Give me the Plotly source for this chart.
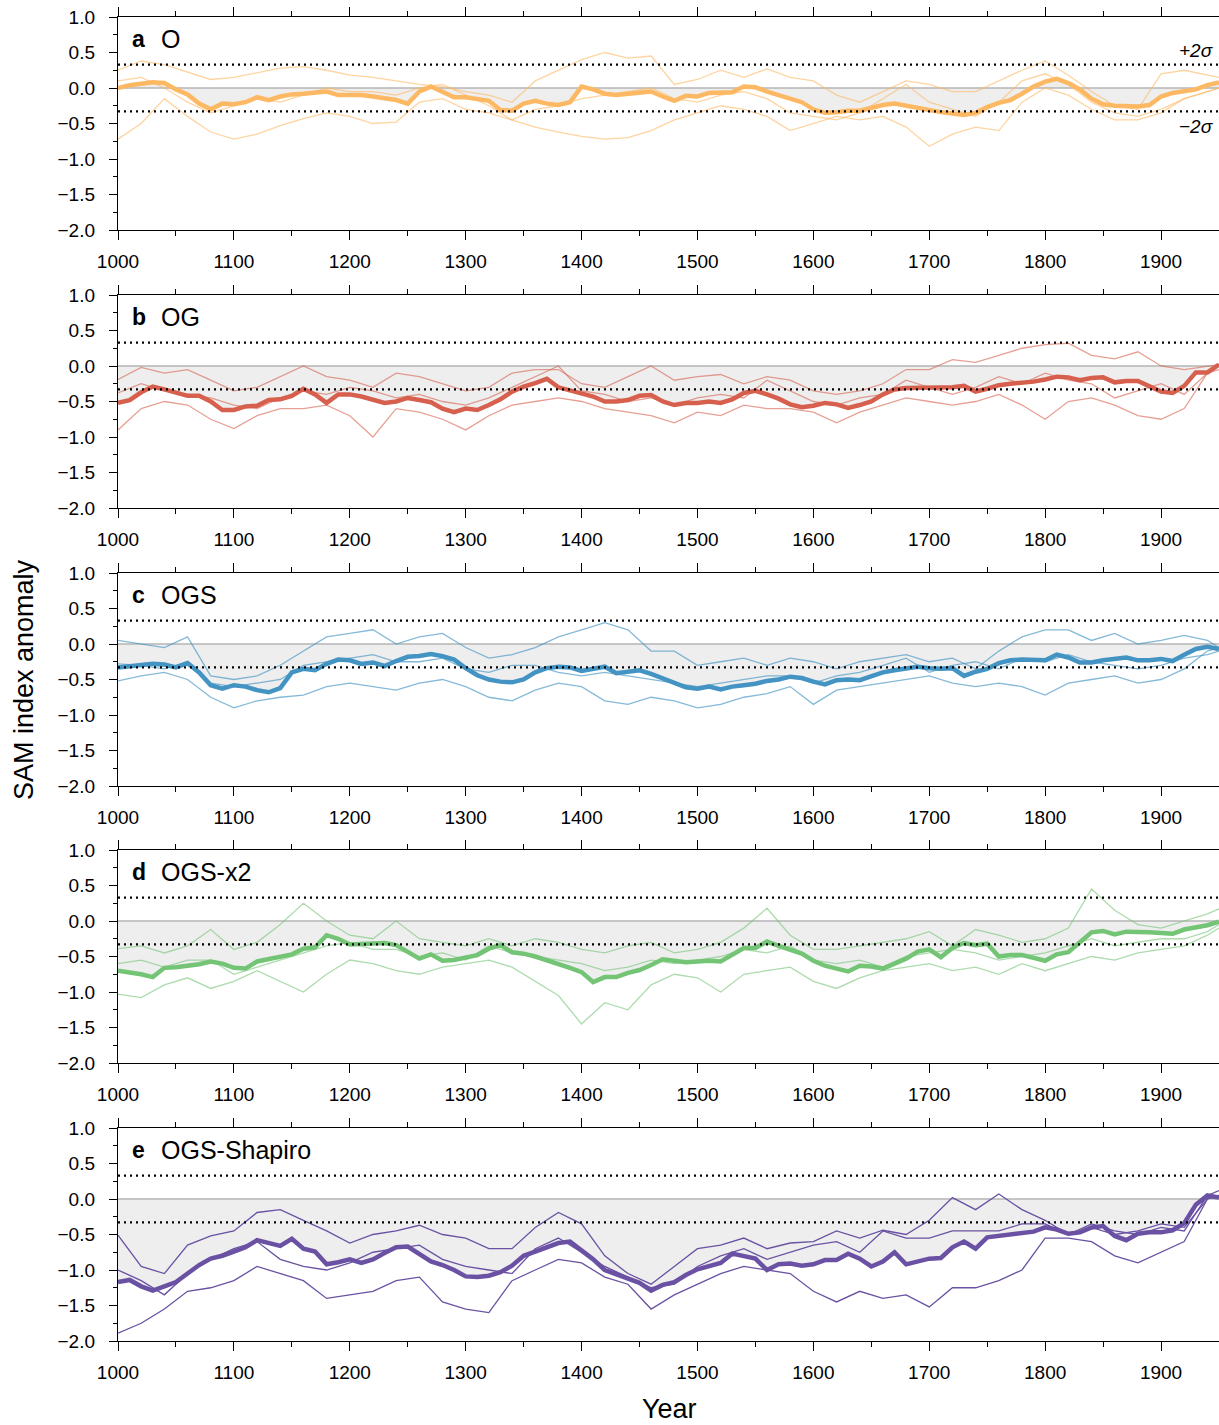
import plotly.graph_objects as go

# ---------------- data ----------------
YEARS_MEAN = list(range(1000, 1951, 10))
YEARS_THIN = list(range(1000, 1941, 20)) + [1950]
SIGMA2 = 0.33
XMIN, XMAX = 1000, 1950

A_MEAN = [0.00,0.04,0.06,0.08,0.07,-0.02,-0.09,-0.22,-0.30,-0.22,
          -0.23,-0.20,-0.13,-0.17,-0.12,-0.09,-0.08,-0.06,-0.05,-0.10,
          -0.10,-0.10,-0.12,-0.14,-0.17,-0.22,-0.05,0.02,-0.06,-0.13,
          -0.13,-0.15,-0.18,-0.31,-0.32,-0.22,-0.18,-0.22,-0.24,-0.20,
          0.02,-0.02,-0.08,-0.10,-0.08,-0.07,-0.05,-0.12,-0.18,-0.11,
          -0.12,-0.07,-0.06,-0.06,0.02,0.01,-0.05,-0.10,-0.15,-0.20,
          -0.30,-0.35,-0.34,-0.32,-0.32,-0.28,-0.24,-0.22,-0.25,-0.29,
          -0.32,-0.34,-0.36,-0.38,-0.35,-0.27,-0.21,-0.17,-0.08,0.02,
          0.09,0.13,0.07,-0.02,-0.15,-0.23,-0.25,-0.25,-0.26,-0.24,
          -0.12,-0.07,-0.05,-0.02,0.04,0.08]
A_THIN1 = [0.25,0.38,0.33,0.22,0.12,0.15,0.22,0.28,0.30,0.25,
           0.18,0.15,0.10,0.05,0.02,-0.05,-0.10,-0.20,0.10,0.25,
           0.40,0.50,0.42,0.45,0.05,0.12,0.25,0.15,0.27,0.15,
           0.10,-0.10,-0.20,-0.05,0.10,0.05,-0.05,-0.05,0.10,0.25,
           0.38,0.18,-0.05,-0.25,-0.30,0.20,0.25,0.18,0.15]
A_THIN2 = [0.10,0.15,0.00,-0.20,-0.35,-0.25,-0.15,-0.20,-0.10,0.00,
           -0.05,-0.05,-0.10,0.00,0.05,-0.10,-0.25,-0.45,-0.30,-0.25,
           -0.15,-0.10,-0.05,0.00,-0.15,-0.20,-0.10,-0.05,-0.15,-0.35,
           -0.40,-0.45,-0.35,-0.15,0.05,-0.20,-0.30,-0.40,-0.20,0.10,
           0.20,0.05,-0.20,-0.35,-0.40,-0.30,-0.15,-0.05,0.00]
A_THIN3 = [-0.72,-0.50,-0.15,-0.40,-0.62,-0.72,-0.65,-0.53,-0.43,-0.35,
           -0.40,-0.50,-0.48,-0.20,-0.15,-0.30,-0.35,-0.45,-0.55,-0.62,
           -0.68,-0.72,-0.70,-0.60,-0.45,-0.35,-0.25,-0.30,-0.40,-0.60,
           -0.50,-0.40,-0.45,-0.40,-0.55,-0.82,-0.65,-0.55,-0.60,-0.20,
           0.00,-0.10,-0.30,-0.45,-0.45,-0.35,-0.15,-0.05,0.00]

B_MEAN = [-0.52,-0.48,-0.37,-0.29,-0.33,-0.38,-0.42,-0.42,-0.50,-0.62,
          -0.62,-0.57,-0.56,-0.48,-0.47,-0.42,-0.32,-0.40,-0.52,-0.40,
          -0.40,-0.43,-0.47,-0.52,-0.50,-0.45,-0.48,-0.51,-0.60,-0.65,
          -0.60,-0.62,-0.55,-0.47,-0.36,-0.29,-0.24,-0.18,-0.30,-0.34,
          -0.38,-0.43,-0.50,-0.50,-0.48,-0.42,-0.41,-0.50,-0.55,-0.52,
          -0.52,-0.50,-0.52,-0.47,-0.38,-0.35,-0.40,-0.46,-0.54,-0.58,
          -0.56,-0.52,-0.54,-0.59,-0.55,-0.50,-0.40,-0.33,-0.31,-0.31,
          -0.31,-0.30,-0.30,-0.28,-0.36,-0.32,-0.27,-0.25,-0.24,-0.22,
          -0.19,-0.15,-0.16,-0.20,-0.17,-0.16,-0.23,-0.21,-0.21,-0.28,
          -0.36,-0.38,-0.28,-0.09,-0.09,0.02]
B_THIN1 = [-0.19,-0.02,-0.10,-0.05,-0.20,-0.35,-0.30,-0.15,0.00,-0.15,
           -0.20,-0.30,-0.10,-0.15,-0.25,-0.35,-0.30,-0.10,-0.05,-0.05,
           -0.25,-0.30,-0.15,0.00,-0.20,-0.15,-0.12,-0.25,-0.15,-0.20,
           -0.35,-0.40,-0.35,-0.25,-0.05,-0.05,0.09,0.05,0.15,0.25,
           0.30,0.32,0.15,0.10,0.20,0.00,-0.05,0.00,0.02]
B_THIN2 = [-0.38,-0.25,-0.35,-0.40,-0.45,-0.55,-0.60,-0.45,-0.35,-0.40,
           -0.30,-0.35,-0.45,-0.40,-0.50,-0.55,-0.45,-0.30,-0.15,0.00,
           -0.35,-0.40,-0.50,-0.45,-0.55,-0.45,-0.40,-0.45,-0.20,-0.35,
           -0.50,-0.55,-0.45,-0.40,-0.20,-0.30,-0.40,-0.30,-0.15,-0.25,
           -0.10,-0.20,-0.25,-0.45,-0.35,-0.25,-0.40,-0.10,-0.05]
B_THIN3 = [-0.90,-0.60,-0.50,-0.55,-0.75,-0.88,-0.70,-0.60,-0.60,-0.55,
           -0.70,-1.00,-0.60,-0.65,-0.75,-0.90,-0.70,-0.55,-0.50,-0.45,
           -0.50,-0.60,-0.65,-0.70,-0.80,-0.65,-0.70,-0.55,-0.60,-0.60,
           -0.65,-0.80,-0.65,-0.55,-0.45,-0.50,-0.55,-0.50,-0.40,-0.55,
           -0.75,-0.50,-0.45,-0.55,-0.70,-0.75,-0.60,-0.10,0.00]

C_MEAN = [-0.33,-0.31,-0.29,-0.28,-0.29,-0.33,-0.27,-0.40,-0.58,-0.63,
          -0.58,-0.60,-0.65,-0.68,-0.62,-0.40,-0.35,-0.37,-0.28,-0.22,
          -0.23,-0.28,-0.26,-0.31,-0.24,-0.18,-0.17,-0.14,-0.17,-0.22,
          -0.34,-0.44,-0.50,-0.53,-0.54,-0.50,-0.40,-0.34,-0.32,-0.33,
          -0.38,-0.35,-0.32,-0.41,-0.39,-0.37,-0.42,-0.48,-0.54,-0.61,
          -0.63,-0.60,-0.64,-0.60,-0.58,-0.56,-0.52,-0.50,-0.46,-0.48,
          -0.53,-0.57,-0.51,-0.50,-0.51,-0.46,-0.40,-0.37,-0.34,-0.32,
          -0.34,-0.35,-0.34,-0.45,-0.39,-0.35,-0.27,-0.23,-0.22,-0.23,
          -0.23,-0.15,-0.19,-0.26,-0.26,-0.23,-0.21,-0.19,-0.23,-0.23,
          -0.21,-0.24,-0.15,-0.07,-0.04,-0.07]
C_THIN1 = [0.05,0.00,-0.05,0.10,-0.45,-0.50,-0.45,-0.30,-0.10,0.10,
           0.15,0.20,0.00,0.10,0.15,-0.05,-0.20,-0.15,-0.05,0.10,
           0.20,0.30,0.20,-0.10,-0.10,-0.30,-0.25,-0.20,-0.30,-0.20,
           -0.25,-0.35,-0.25,-0.20,-0.15,-0.25,-0.20,-0.35,-0.10,0.10,
           0.20,0.20,0.05,0.15,0.00,0.05,0.12,0.05,-0.05]
C_THIN2 = [-0.28,-0.30,-0.35,-0.25,-0.55,-0.60,-0.55,-0.50,-0.30,-0.25,
           -0.20,-0.15,-0.25,-0.25,-0.20,-0.35,-0.40,-0.30,-0.30,-0.40,
           -0.45,-0.40,-0.45,-0.50,-0.55,-0.60,-0.55,-0.50,-0.45,-0.45,
           -0.55,-0.45,-0.40,-0.30,-0.20,-0.40,-0.30,-0.25,-0.35,-0.20,
           -0.25,-0.15,-0.25,-0.30,-0.35,-0.30,-0.20,-0.15,-0.10]
C_THIN3 = [-0.52,-0.45,-0.40,-0.50,-0.75,-0.90,-0.80,-0.75,-0.72,-0.60,
           -0.55,-0.60,-0.65,-0.55,-0.50,-0.60,-0.75,-0.80,-0.65,-0.55,
           -0.60,-0.80,-0.85,-0.75,-0.80,-0.90,-0.85,-0.75,-0.70,-0.60,
           -0.85,-0.65,-0.60,-0.55,-0.50,-0.45,-0.55,-0.60,-0.55,-0.60,
           -0.72,-0.55,-0.50,-0.45,-0.55,-0.50,-0.35,-0.10,-0.05]

D_MEAN = [-0.70,-0.72,-0.75,-0.79,-0.66,-0.65,-0.63,-0.61,-0.57,-0.60,
          -0.66,-0.67,-0.57,-0.54,-0.51,-0.47,-0.39,-0.37,-0.20,-0.25,
          -0.33,-0.32,-0.31,-0.31,-0.34,-0.43,-0.53,-0.47,-0.56,-0.55,
          -0.51,-0.48,-0.39,-0.34,-0.44,-0.46,-0.50,-0.55,-0.60,-0.66,
          -0.72,-0.86,-0.79,-0.79,-0.73,-0.69,-0.62,-0.54,-0.56,-0.58,
          -0.57,-0.56,-0.57,-0.48,-0.38,-0.38,-0.29,-0.35,-0.41,-0.46,
          -0.56,-0.63,-0.67,-0.71,-0.63,-0.64,-0.67,-0.60,-0.53,-0.43,
          -0.40,-0.51,-0.38,-0.31,-0.34,-0.32,-0.50,-0.48,-0.48,-0.52,
          -0.56,-0.47,-0.44,-0.30,-0.16,-0.14,-0.19,-0.15,-0.15,-0.16,
          -0.17,-0.18,-0.12,-0.09,-0.06,-0.01]
D_THIN1 = [-0.39,-0.35,-0.45,-0.35,-0.12,-0.40,-0.30,-0.05,0.25,0.00,
           -0.20,-0.25,0.00,-0.25,-0.30,-0.35,-0.25,-0.35,-0.25,-0.30,
           -0.40,-0.45,-0.35,-0.30,-0.45,-0.40,-0.30,-0.10,0.18,-0.20,
           -0.40,-0.40,-0.35,-0.30,-0.25,-0.15,-0.35,-0.12,-0.20,-0.30,
           -0.25,-0.10,0.45,0.15,-0.05,-0.10,0.00,0.10,0.17]
D_THIN2 = [-0.60,-0.55,-0.65,-0.55,-0.55,-0.75,-0.65,-0.55,-0.45,-0.35,
           -0.30,-0.40,-0.40,-0.50,-0.45,-0.55,-0.35,-0.45,-0.50,-0.55,
           -0.60,-0.70,-0.65,-0.55,-0.60,-0.55,-0.50,-0.40,-0.45,-0.35,
           -0.55,-0.60,-0.55,-0.65,-0.50,-0.45,-0.40,-0.45,-0.55,-0.50,
           -0.45,-0.35,-0.25,-0.35,-0.30,-0.25,-0.25,-0.15,-0.05]
D_THIN3 = [-1.03,-1.08,-0.90,-0.80,-0.95,-0.85,-0.70,-0.85,-1.00,-0.75,
           -0.55,-0.60,-0.70,-0.75,-0.65,-0.60,-0.55,-0.65,-0.85,-1.05,
           -1.45,-1.15,-1.25,-0.90,-0.75,-0.80,-1.00,-0.75,-0.70,-0.65,
           -0.85,-0.95,-0.80,-0.70,-0.65,-0.60,-0.70,-0.65,-0.75,-0.60,
           -0.70,-0.60,-0.50,-0.55,-0.45,-0.40,-0.35,-0.20,-0.10]

E_MEAN = [-1.17,-1.14,-1.23,-1.29,-1.23,-1.17,-1.05,-0.93,-0.84,-0.80,
          -0.74,-0.68,-0.58,-0.62,-0.66,-0.56,-0.70,-0.74,-0.92,-0.89,
          -0.85,-0.90,-0.85,-0.76,-0.68,-0.67,-0.78,-0.88,-0.93,-1.00,
          -1.09,-1.10,-1.08,-1.03,-0.94,-0.80,-0.74,-0.68,-0.62,-0.60,
          -0.72,-0.85,-1.00,-1.06,-1.12,-1.18,-1.29,-1.21,-1.17,-1.07,
          -0.99,-0.94,-0.90,-0.77,-0.81,-0.84,-1.00,-0.92,-0.91,-0.94,
          -0.92,-0.86,-0.86,-0.77,-0.84,-0.95,-0.88,-0.75,-0.92,-0.88,
          -0.84,-0.83,-0.68,-0.60,-0.70,-0.54,-0.52,-0.50,-0.49,-0.46,
          -0.40,-0.43,-0.49,-0.47,-0.40,-0.38,-0.52,-0.58,-0.49,-0.47,
          -0.47,-0.44,-0.34,-0.08,0.05,0.02]
E_THIN1 = [-0.51,-0.95,-1.05,-0.65,-0.52,-0.45,-0.19,-0.15,-0.30,-0.45,
           -0.62,-0.50,-0.45,-0.37,-0.50,-0.55,-0.70,-0.70,-0.40,-0.19,
           -0.35,-0.80,-1.05,-1.20,-0.95,-0.70,-0.65,-0.55,-0.70,-0.62,
           -0.60,-0.45,-0.55,-0.44,-0.50,-0.30,0.02,-0.15,0.07,-0.15,
           -0.30,-0.50,-0.35,-0.45,-0.50,-0.40,-0.45,0.05,0.12]
E_THIN2 = [-1.00,-1.15,-1.35,-1.05,-0.85,-0.70,-0.60,-0.85,-0.95,-1.00,
           -0.90,-0.75,-0.70,-0.65,-0.85,-0.95,-1.00,-1.05,-0.70,-0.55,
           -0.75,-0.95,-1.10,-1.25,-1.20,-0.95,-0.80,-0.70,-0.85,-0.75,
           -0.65,-0.60,-0.75,-0.45,-0.55,-0.55,-0.45,-0.45,-0.45,-0.35,
           -0.35,-0.50,-0.40,-0.50,-0.45,-0.35,-0.40,0.00,0.05]
E_THIN3 = [-1.89,-1.75,-1.55,-1.30,-1.25,-1.15,-0.95,-1.05,-1.15,-1.40,
           -1.35,-1.30,-1.15,-1.10,-1.45,-1.55,-1.60,-1.15,-1.00,-0.85,
           -0.90,-1.10,-1.20,-1.55,-1.35,-1.20,-1.05,-0.95,-1.00,-1.05,
           -1.30,-1.45,-1.30,-1.40,-1.35,-1.52,-1.25,-1.25,-1.15,-1.00,
           -0.55,-0.55,-0.60,-0.80,-0.90,-0.75,-0.60,0.00,0.05]

PANEL_LETTERS = ["a", "b", "c", "d", "e"]
PANEL_NAMES = ["O", "OG", "OGS", "OGS-x2", "OGS-Shapiro"]
MEANS = [A_MEAN, B_MEAN, C_MEAN, D_MEAN, E_MEAN]
THINS = [[A_THIN1, A_THIN2, A_THIN3], [B_THIN1, B_THIN2, B_THIN3],
         [C_THIN1, C_THIN2, C_THIN3], [D_THIN1, D_THIN2, D_THIN3],
         [E_THIN1, E_THIN2, E_THIN3]]
THICK_COLORS = ["#fdb863", "#d6604d", "#4393c3", "#74c476", "#6a51a3"]
THIN_COLORS = ["rgba(253,184,99,0.6)", "rgba(214,96,77,0.6)",
               "rgba(67,147,195,0.65)", "rgba(116,196,118,0.6)", "#6a51a3"]
X_TICKS = list(range(1000, 1901, 100))

for m in MEANS:
    assert len(m) == len(YEARS_MEAN), len(m)
for th in THINS:
    for t in th:
        assert len(t) == len(YEARS_THIN), len(t)

# ---------------- layout geometry ----------------
W, H = 1219, 1425
ML, MR, MT, MB = 118, 0, 17, 84
PLOT_H = H - MT - MB
PANEL_TOPS = [17, 295, 573, 850, 1128]
PANEL_H = 213
FONT = "Liberation Sans, Arial, Helvetica, sans-serif"

fig = go.Figure()
layout = dict(
    width=W, height=H, margin=dict(l=ML, r=MR, t=MT, b=MB),
    plot_bgcolor="white", paper_bgcolor="white", showlegend=False,
    font=dict(family=FONT, size=19, color="black"),
)
shapes, annotations = [], []

for i in range(5):
    k = i + 1
    xa = "x" if k == 1 else f"x{k}"
    ya = "y" if k == 1 else f"y{k}"
    top = 1 - (PANEL_TOPS[i] - MT) / PLOT_H
    bot = 1 - (PANEL_TOPS[i] + PANEL_H - MT) / PLOT_H

    # grey fill between zero and ensemble mean
    fig.add_trace(go.Scatter(x=YEARS_MEAN, y=MEANS[i], xaxis=xa, yaxis=ya,
                             mode="lines", line=dict(width=0, color="rgba(0,0,0,0)"),
                             fill="tozeroy", fillcolor="#eeeeee", hoverinfo="skip"))
    # zero line
    fig.add_trace(go.Scatter(x=[XMIN, XMAX], y=[0, 0], xaxis=xa, yaxis=ya,
                             mode="lines", line=dict(width=1.3, color="#b4b4b4"),
                             hoverinfo="skip"))
    for t in THINS[i]:
        fig.add_trace(go.Scatter(x=YEARS_THIN, y=t, xaxis=xa, yaxis=ya, mode="lines",
                                 line=dict(width=1.3, color=THIN_COLORS[i])))
    fig.add_trace(go.Scatter(x=YEARS_MEAN, y=MEANS[i], xaxis=xa, yaxis=ya, mode="lines",
                             line=dict(width=4.5, color=THICK_COLORS[i])))

    xkey = "xaxis" if k == 1 else f"xaxis{k}"
    ykey = "yaxis" if k == 1 else f"yaxis{k}"
    layout[xkey] = dict(
        domain=[0, 1], anchor=ya, range=[XMIN, XMAX], tickvals=X_TICKS,
        ticks="outside", ticklen=9, tickwidth=1.4, tickcolor="black",
        showline=True, linewidth=1.4, linecolor="black", mirror="ticks",
        showgrid=False, zeroline=False, tickfont=dict(size=19, family=FONT),
        ticklabelstandoff=5,
        minor=dict(tickvals=list(range(1050, 1951, 100)), ticks="outside",
                   ticklen=5, tickwidth=1.4, tickcolor="black"),
    )
    layout[ykey] = dict(
        domain=[bot, top], anchor=xa, range=[-2, 1], dtick=0.5, tick0=0,
        tickformat=".1f", ticks="outside", ticklen=8, tickwidth=1.4,
        tickcolor="black", showline=True, linewidth=1.4, linecolor="black",
        mirror=False, showgrid=False, zeroline=False,
        tickfont=dict(size=19, family=FONT), ticklabelstandoff=10,
        minor=dict(dtick=0.25, ticks="outside", ticklen=4, tickwidth=1.4,
                   tickcolor="black"),
    )

    for s in (SIGMA2, -SIGMA2):
        shapes.append(dict(type="line", xref=f"{xa} domain", yref=ya, x0=0, x1=1,
                           y0=s, y1=s, layer="above",
                           line=dict(color="black", width=2.2, dash="2px,4px")))

    annotations.append(dict(text=f"<b>{PANEL_LETTERS[i]}</b>", xref=f"{xa} domain",
                            yref=f"{ya} domain", x=0.011, y=0.895, xanchor="left",
                            yanchor="middle", showarrow=False,
                            font=dict(size=23, family=FONT)))
    annotations.append(dict(text=PANEL_NAMES[i], xref=f"{xa} domain",
                            yref=f"{ya} domain", x=0.037, y=0.895, xanchor="left",
                            yanchor="middle", showarrow=False,
                            font=dict(size=25, family=FONT)))

annotations.append(dict(text="<i>+2σ</i>", xref="x domain", yref="y domain",
                        x=0.997, y=0.845, xanchor="right", yanchor="middle",
                        showarrow=False, font=dict(size=19, family=FONT)))
annotations.append(dict(text="<i>−2σ</i>", xref="x domain", yref="y domain",
                        x=0.997, y=0.488, xanchor="right", yanchor="middle",
                        showarrow=False, font=dict(size=19, family=FONT)))
annotations.append(dict(text="SAM index anomaly", xref="paper", yref="paper",
                        x=(24 - ML) / (W - ML - MR), y=(H - MB - 680) / PLOT_H,
                        xanchor="center", yanchor="middle", textangle=-90,
                        showarrow=False, font=dict(size=27, family=FONT)))
annotations.append(dict(text="Year", xref="paper", yref="paper",
                        x=(669 - ML) / (W - ML - MR), y=(H - MB - 1409) / PLOT_H,
                        xanchor="center", yanchor="middle",
                        showarrow=False, font=dict(size=27, family=FONT)))

layout["shapes"] = shapes
layout["annotations"] = annotations
fig.update_layout(**layout)
fig.write_html("out.html", config={"displayModeBar": False},
               post_script="document.body.style.margin='0';"
                           "document.body.style.overflow='hidden';")
